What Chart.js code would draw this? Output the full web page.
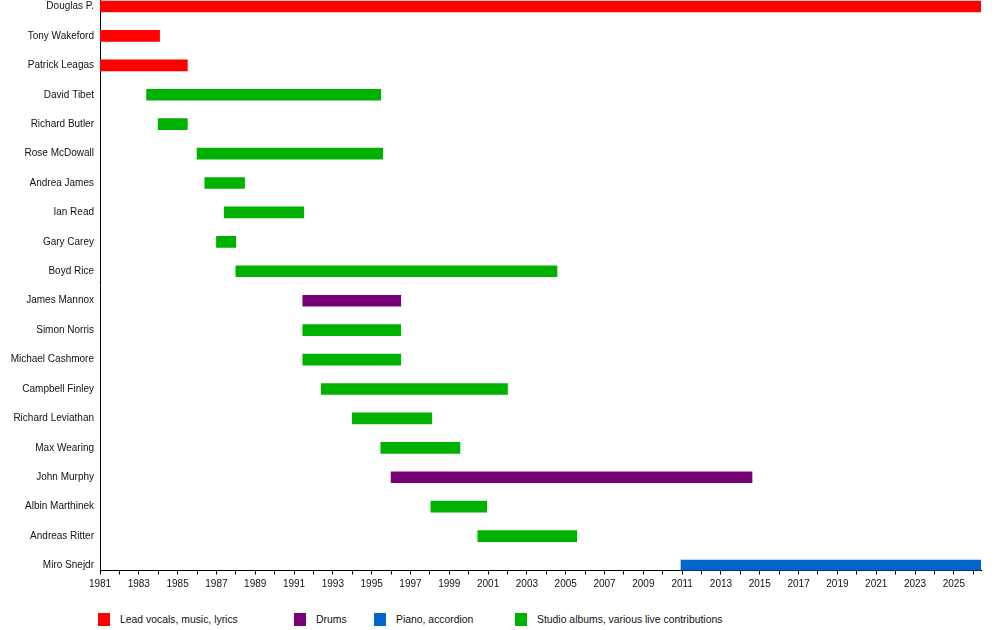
<!DOCTYPE html>
<html lang="en">
<head>
  <meta charset="UTF-8" />
  <title>Band members timeline</title>
  <script src="https://cdn.jsdelivr.net/npm/chart.js"></script>
  <style>
    body {
      margin: 0;
      background: #fff;
      font-family: "Liberation Sans", Arial, sans-serif;
    }
    #wrap {
      position: relative;
      width: 1000px;
      height: 630px;
    }
    #chartBox {
      position: absolute;
      left: 0;
      top: 0;
      width: 1000px;
      height: 600px;
    }
    #legend {
      position: absolute;
      top: 613px;
      left: 0;
      width: 1000px;
      height: 14px;
      font-size: 10.4px;
      color: #111;
    }
    #legend .item {
      position: absolute;
      top: 0;
      display: flex;
      align-items: center;
    }
    #legend .sw {
      width: 12px;
      height: 13px;
      margin-right: 10px;
    }
  </style>
</head>
<body>
  <div id="wrap">
    <div id="chartBox"><canvas id="timeline"></canvas></div>
    <div id="legend"></div>
  </div>

  <script>
    // members, top to bottom
    const members = [
      'Douglas P.', 'Tony Wakeford', 'Patrick Leagas', 'David Tibet', 'Richard Butler',
      'Rose McDowall', 'Andrea James', 'Ian Read', 'Gary Carey', 'Boyd Rice',
      'James Mannox', 'Simon Norris', 'Michael Cashmore', 'Campbell Finley', 'Richard Leviathan',
      'Max Wearing', 'John Murphy', 'Albin Marthinek', 'Andreas Ritter', 'Miro Snejdr'
    ];
    const starts = [
      1981, 1981, 1981, 1983.4, 1984.0,
      1986.0, 1986.4, 1987.4, 1987.0, 1988.0,
      1991.45, 1991.45, 1991.45, 1992.4, 1994.0,
      1995.47, 1996.0, 1998.05, 2000.47, 2010.94
    ];
    const ends = [
      2026.4, 1984.07, 1985.5, 1995.47, 1985.5,
      1995.57, 1988.45, 1991.5, 1988.0, 2004.55,
      1996.5, 1996.5, 1996.5, 2002.0, 1998.1,
      1999.55, 2014.6, 2000.93, 2005.57, 2026.4
    ];
    // role index per member (see roleNames)
    const roles = [0, 0, 0, 3, 3, 3, 3, 3, 3, 3, 1, 3, 3, 3, 3, 3, 1, 3, 3, 2];

    const roleNames = ['Lead vocals, music, lyrics', 'Drums', 'Piano, accordion', 'Studio albums, various live contributions'];
    const roleColors = ['#ff0000', '#770077', '#0066cc', '#00b200'];
    const legendX = [98, 294, 374, 515];

    const firstYear = 1981;
    const lastYear = 2026.4;
    const axisFont = { family: '"Liberation Sans", Arial, sans-serif', size: 10 };

    // legend
    const legendEl = document.getElementById('legend');
    roleNames.forEach((name, i) => {
      const it = document.createElement('div');
      it.className = 'item';
      it.style.left = legendX[i] + 'px';
      const sw = document.createElement('span');
      sw.className = 'sw';
      sw.style.background = roleColors[i];
      const tx = document.createElement('span');
      tx.textContent = name;
      it.appendChild(sw);
      it.appendChild(tx);
      legendEl.appendChild(it);
    });

    const bars = members.map((m, i) => ({ x: [starts[i], ends[i]], y: i }));

    const ctx = document.getElementById('timeline').getContext('2d');
    new Chart(ctx, {
      type: 'bar',
      data: {
        datasets: [{
          data: bars,
          backgroundColor: roles.map(r => roleColors[r]),
          borderWidth: 0,
          barThickness: 11
        }]
      },
      options: {
        indexAxis: 'y',
        responsive: true,
        maintainAspectRatio: false,
        animation: false,
        layout: { padding: { top: 0, right: 19, left: 0, bottom: 0 } },
        plugins: {
          legend: { display: false },
          tooltip: { enabled: false }
        },
        scales: {
          x: {
            type: 'linear',
            min: firstYear,
            max: lastYear,
            afterFit: s => {
              s.height = 29.5;
              s.paddingLeft = 0;
              s.paddingRight = 0;
            },
            afterBuildTicks: s => {
              const t = [];
              for (let y = 1981; y <= 2026; y++) t.push({ value: y });
              s.ticks = t;
            },
            border: { display: true, color: '#000', width: 1 },
            grid: {
              display: true,
              drawOnChartArea: false,
              drawTicks: true,
              tickLength: 4,
              color: '#000'
            },
            ticks: {
              autoSkip: false,
              maxRotation: 0,
              padding: 4,
              color: '#111',
              font: axisFont,
              callback: v => (v % 2 === 1 ? String(v) : '')
            }
          },
          y: {
            type: 'linear',
            reverse: true,
            offset: false,
            min: -0.221,
            max: 19.17,
            afterFit: s => {
              s.width = 100;
              s.paddingTop = 0;
              s.paddingBottom = 0;
            },
            afterBuildTicks: s => {
              s.ticks = members.map((m, i) => ({ value: i }));
            },
            border: { display: true, color: '#000', width: 1 },
            grid: { display: false, drawTicks: false, tickLength: 0 },
            ticks: {
              padding: 6,
              color: '#111',
              font: axisFont,
              callback: v => members[v] || ''
            }
          }
        }
      }
    });
  </script>
</body>
</html>
